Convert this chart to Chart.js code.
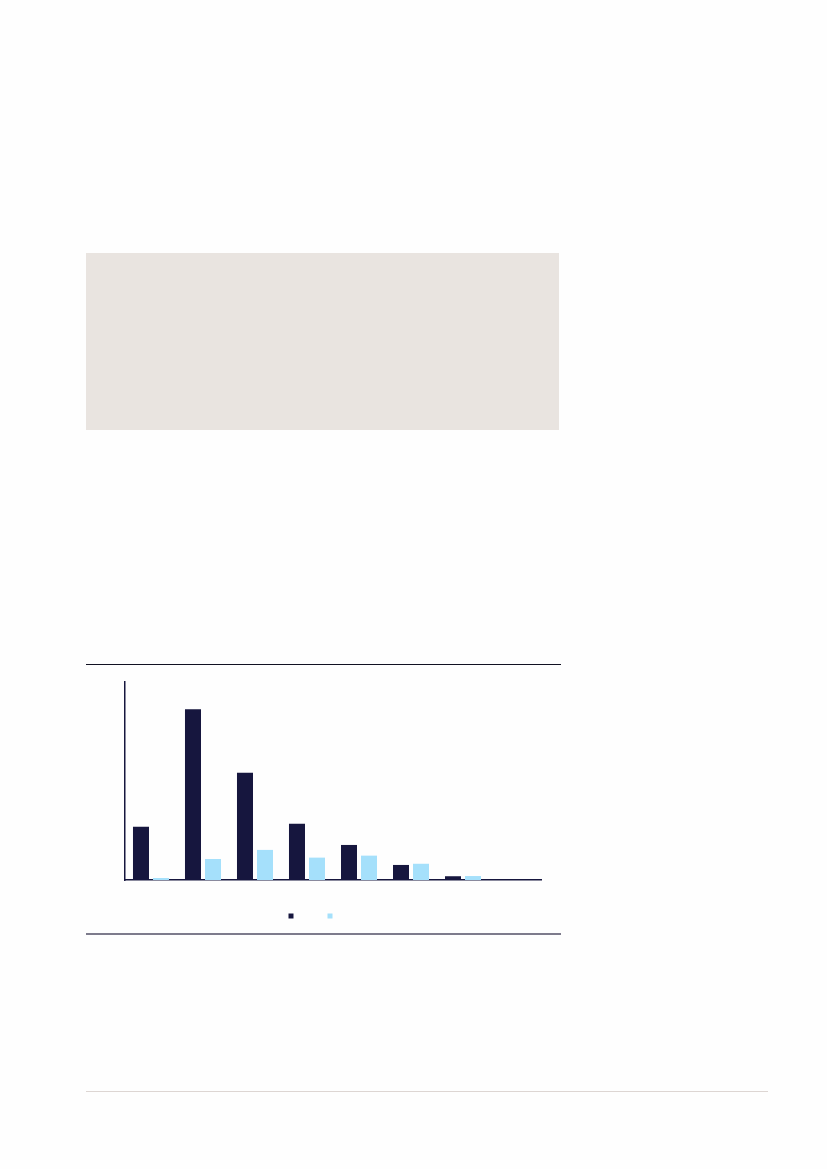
<!DOCTYPE html>
<html>
<head>
<meta charset="utf-8">
<script src="https://cdn.jsdelivr.net/npm/chart.js@4/dist/chart.umd.min.js"></script>
<style>
  html, body { margin: 0; padding: 0; background: #fefefe; }
  body { width: 827px; height: 1169px; position: relative; overflow: hidden; font-family: "Noto Sans", sans-serif; }
  .panel { position: absolute; left: 86px; top: 253px; width: 473px; height: 177px; background: #e9e4e0; }
  .rule-top { position: absolute; left: 86px; top: 664px; width: 475px; height: 0; border-top: 1.5px solid #111122; }
  .rule-bottom { position: absolute; left: 86px; top: 933px; width: 475px; height: 0; border-top: 2px solid #7d7b8c; }
  .footer-line { position: absolute; left: 86px; top: 1091px; width: 682px; height: 0; border-top: 1.5px solid #ddd6d3; }
  .chart-box { position: absolute; left: 86px; top: 666px; width: 475px; height: 266px; }
</style>
</head>
<body>
<div class="panel"></div>
<div class="rule-top"></div>
<div class="chart-box"><canvas id="chart"></canvas></div>
<div class="rule-bottom"></div>
<div class="footer-line"></div>

<script>
// category slots (labels were not printed in the picture)
const categories = ['', '', '', '', '', '', '', ''];

// values, on a 0-100 scale up to the top of the axis
const seriesDark = [26.9, 86.2, 54.2, 28.4, 17.7, 7.6, 1.9, 0.4];
const seriesLight = [1.0, 10.6, 15.2, 11.3, 12.3, 8.2, 2.0, 0];

const yMin = 0;
const yMax = 100;

const navy = '#16163e';
const lightBlue = '#a5e0fb';

const data = {
  labels: categories,
  datasets: [
    {
      label: '',
      data: seriesDark,
      backgroundColor: navy,
      borderWidth: 0,
      categoryPercentage: 0.77,
      barPercentage: 0.8
    },
    {
      label: '',
      data: seriesLight,
      backgroundColor: lightBlue,
      borderWidth: 0,
      categoryPercentage: 0.77,
      barPercentage: 0.8
    }
  ]
};

new Chart(document.getElementById('chart'), {
  type: 'bar',
  data,
  options: {
    responsive: true,
    maintainAspectRatio: false,
    animation: false,
    layout: { padding: { top: 16, right: 20, left: 0, bottom: 0 } },
    plugins: {
      tooltip: { enabled: false },
      legend: {
        position: 'bottom',
        labels: {
          boxWidth: 5,
          boxHeight: 5,
          padding: 28,
          font: { size: 12, family: 'Noto Sans' },
          color: '#333'
        }
      }
    },
    scales: {
      x: {
        grid: { display: false },
        ticks: { display: false },
        border: { display: true, color: navy, width: 1.5 },
        afterFit(scale) { scale.height = 2; }
      },
      y: {
        min: yMin,
        max: yMax,
        grid: { display: false },
        ticks: { display: false },
        border: { display: true, color: navy, width: 1.5 },
        afterFit(scale) { scale.width = 39; }
      }
    }
  }
});
</script>
</body>
</html>
